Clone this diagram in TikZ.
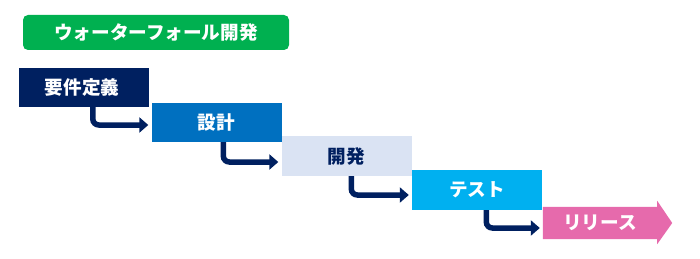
\documentclass[tikz,border=0pt]{standalone}
\usepackage{fontspec}
\setmainfont{Noto Sans CJK JP}
\usetikzlibrary{arrows.meta,calc,backgrounds}
\definecolor{navy}{HTML}{002060}
\definecolor{midblue}{HTML}{0070C0}
\definecolor{paleblue}{HTML}{DAE3F3}
\definecolor{skyblue}{HTML}{00B0F0}
\definecolor{pinkc}{HTML}{E66AAC}
\definecolor{greenc}{HTML}{00B050}
\begin{document}
\begin{tikzpicture}[x=1pt,y=-1pt,
  lbl/.style={font=\bfseries\fontsize{18.6}{18.6}\selectfont, text=white},
  box/.style={lbl, minimum width=130pt, minimum height=39pt, inner sep=0pt},
  conn/.style={draw=navy, line width=5.5pt, rounded corners=6pt,
    -{Triangle[length=9pt,width=15pt]}, shorten >=3pt}]
\useasboundingbox (0,0) rectangle (700,259);
\node[lbl, fill=greenc, rounded corners=5pt, minimum width=266pt, minimum height=35pt, inner sep=0pt] (title) at (156,32.5) {ウォーターフォール開発};
\node[box, fill=navy] (b1) at (84,87.5) {\hspace{-4pt}要件定義};
\node[box, fill=midblue] (b2) at (216.5,122.5) {設計};
\node[box, fill=paleblue, text=navy, minimum height=40pt] (b3) at (346.5,156) {開発};
\node[box, fill=skyblue, minimum height=40pt] (b4) at (477,190) {テスト};
\node[lbl, minimum width=114pt, minimum height=32pt, inner sep=0pt] (b5) at (600,223) {リリース};
\begin{scope}[on background layer]
\fill[pinkc] (b5.north west) -- (b5.north east) -- ($(b5.north east)+(0,-6)$) -- ($(b5.east)+(15,0)$) -- ($(b5.south east)+(0,5)$) -- (b5.south east) -- (b5.south west) -- cycle;
\end{scope}
\draw[conn] ($(b1.south west)+(74,0)$) |- ($(b2.west)+(0,2.5)$);
\draw[conn] ($(b2.south west)+(72,0)$) |- ($(b3.west)+(0,6)$);
\draw[conn] ($(b3.south west)+(70,0)$) |- ($(b4.west)+(0,5)$);
\draw[conn] ($(b4.south west)+(74.5,0)$) |- ($(b5.west)+(0,5)$);
\end{tikzpicture}
\end{document}
